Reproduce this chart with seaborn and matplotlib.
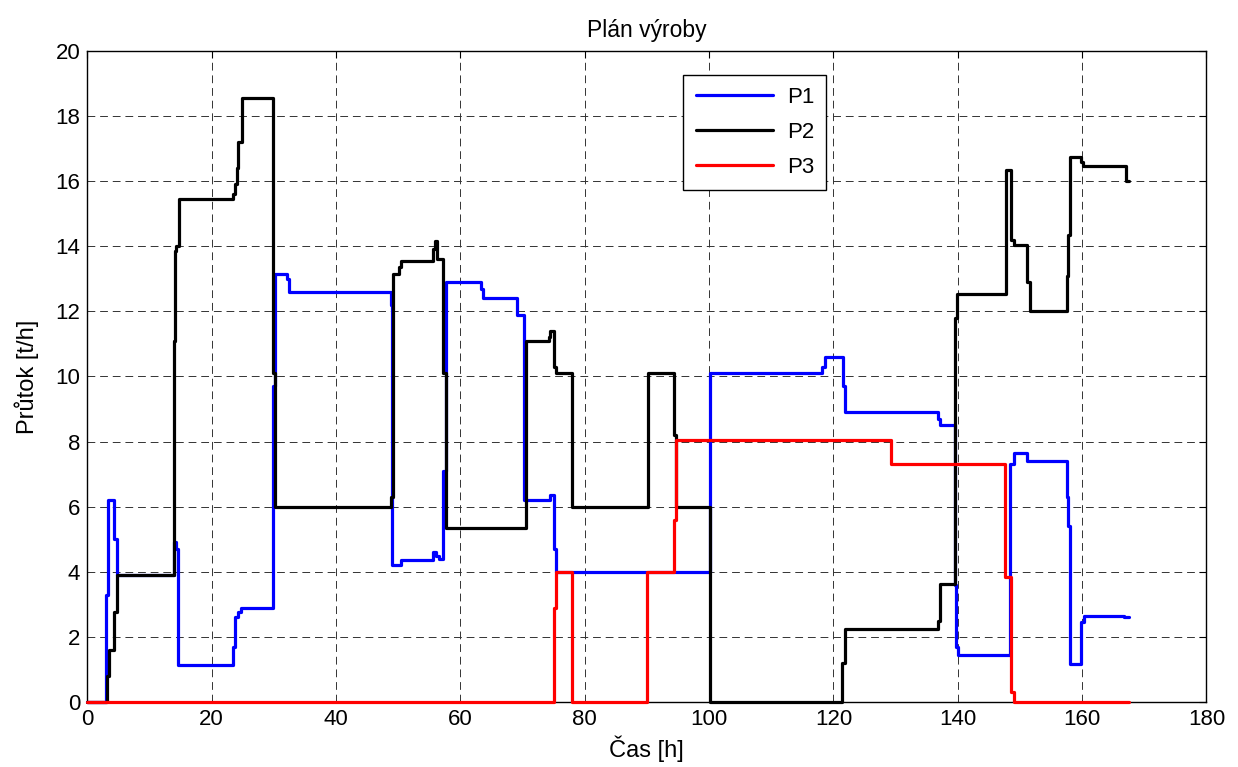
import matplotlib
matplotlib.use("Agg")
import matplotlib.pyplot as plt
import seaborn as sns
import pandas as pd

# step breakpoints: time [h] where a new flow value starts
p1_t = [0, 3.0, 3.3, 4.3, 4.75, 13.9, 14.3, 14.6, 23.5, 23.8, 24.3, 24.8, 29.8, 30.2,
        32.2, 32.5, 48.8, 49.0, 50.4, 55.6, 56.1, 56.6, 57.2, 57.7, 63.3, 63.7, 69.1,
        70.3, 74.5, 75.0, 75.4, 100.1, 118.2, 118.6, 121.5, 121.9, 136.9, 137.2, 139.5,
        139.7, 140.0, 148.4, 149.0, 151.1, 157.5, 157.8, 158.0, 159.9, 160.3, 166.8, 167.6]
p1_v = [0, 3.3, 6.2, 5.0, 3.9, 4.9, 4.7, 1.14, 1.7, 2.6, 2.75, 2.9, 9.7, 13.15,
        13.0, 12.6, 12.2, 4.2, 4.35, 4.6, 4.5, 4.4, 7.1, 12.9, 12.7, 12.4, 11.9,
        6.2, 6.35, 4.7, 4.0, 10.1, 10.3, 10.6, 9.7, 8.9, 8.7, 8.5, 3.6,
        1.7, 1.43, 7.3, 7.65, 7.4, 6.3, 5.4, 1.17, 2.45, 2.65, 2.6, 2.6]

p2_t = [0, 3.1, 3.5, 4.3, 4.75, 13.9, 14.05, 14.3, 14.7, 23.5, 23.8, 24.1, 24.3, 24.9,
        29.8, 30.2, 48.8, 49.1, 50.1, 50.4, 55.6, 55.9, 56.3, 57.2, 57.7, 70.5, 74.2,
        74.5, 75.0, 75.4, 78.0, 90.2, 94.4, 94.7, 100.1, 121.4, 121.8, 136.8, 137.2,
        139.5, 139.9, 147.7, 148.5, 149.0, 151.2, 151.6, 157.5, 157.8, 158.1, 159.8,
        160.2, 167.0, 167.6]
p2_v = [0, 0.8, 1.6, 2.75, 3.9, 11.1, 13.85, 14.0, 15.45, 15.6, 15.9, 16.4, 17.2, 18.55,
        10.1, 6.0, 6.3, 13.15, 13.35, 13.55, 13.9, 14.15, 13.6, 10.1, 5.35, 11.1, 11.2,
        11.4, 10.3, 10.1, 6.0, 10.1, 8.2, 6.0, 0, 1.2, 2.24, 2.5, 3.62,
        11.8, 12.53, 16.35, 14.2, 14.05, 12.9, 12.0, 13.1, 14.35, 16.75, 16.6,
        16.45, 16.0, 16.0]

p3_t = [0, 75.0, 75.4, 78.0, 90.1, 94.4, 94.7, 129.3, 147.6, 148.5, 149.0, 167.6]
p3_v = [0, 2.9, 4.0, 0, 4.0, 5.6, 8.05, 7.3, 3.85, 0.3, 0, 0]

labels = ["P1", "P2", "P3"]
colors = ["#0000ff", "#000000", "#ff0000"]

sns.set_style("white")
plt.rcParams["font.family"] = ["Liberation Sans", "DejaVu Sans"]
plt.rcParams["text.color"] = "black"
plt.rcParams["axes.labelcolor"] = "black"
plt.rcParams["xtick.color"] = "black"
plt.rcParams["ytick.color"] = "black"

fig = plt.figure(figsize=(12.38, 7.67), dpi=100)
ax = fig.add_axes([0.0705, 0.0847, 0.904, 0.849])

series = [(p1_t, p1_v), (p2_t, p2_v), (p3_t, p3_v)]
for (t, v), lab, col in zip(series, labels, colors):
    df = pd.DataFrame({"t": t, "v": v})
    sns.lineplot(data=df, x="t", y="v", ax=ax, color=col, linewidth=2.3,
                 drawstyle="steps-post", sort=False, label=lab, estimator=None,
                 zorder=3, clip_on=False)

ax.set_xlim(0, 180)
ax.set_ylim(0, 20)
ax.set_xticks(range(0, 181, 20))
ax.set_yticks(range(0, 21, 2))
ax.grid(True, color="#333333", linestyle=(0, (8, 5)), linewidth=0.7)
ax.tick_params(direction="in", length=5, top=True, right=True, labelsize=16,
               width=0.8, color="black", labelcolor="black", pad=5)
for s in ax.spines.values():
    s.set_color("black")
    s.set_linewidth(1.0)

ax.set_title("Plán výroby", fontsize=16.5, pad=10, color="black")
ax.set_xlabel("Čas [h]", fontsize=17, labelpad=4, color="black")
ax.set_ylabel("Průtok [t/h]", fontsize=17, labelpad=12, color="black")

leg = ax.legend(loc="upper left", bbox_to_anchor=(0.5326, 0.963), fontsize=16,
                handlelength=3.5, labelspacing=0.62, fancybox=False, framealpha=1,
                edgecolor="black", borderpad=0.55, handletextpad=0.6,
                borderaxespad=0, labelcolor="black")
leg.get_frame().set_linewidth(1.0)

fig.savefig("out.png", dpi=100)
